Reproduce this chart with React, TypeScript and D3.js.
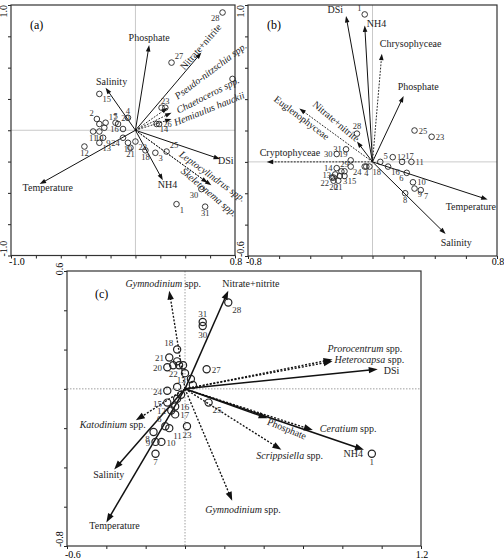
import React, { useEffect, useRef } from 'react';
import * as d3 from 'd3';

type Site = [number, number, number];
type Vec = { name: string; x: number; y: number };
type Lab = [number, number, string, number];

// ---- panel (a): diatoms ----
const sitesA: Site[] = [
  [1, 0.33, -0.59], [2, -0.31, 0.09], [3, 0.16, -0.18], [4, -0.06, 0.1], [5, -0.16, 0.06],
  [6, -0.29, 0.05], [7, 0.21, 0.18], [8, -0.25, 0.02], [9, -0.26, -0.06], [10, -0.29, -0.01],
  [11, -0.34, -0.01], [12, -0.41, -0.13], [13, -0.29, -0.1], [14, 0.17, 0.05], [15, -0.29, 0.29],
  [16, -0.1, 0.01], [17, -0.24, 0.06], [18, 0.08, -0.16], [19, -0.06, -0.1], [20, -0.14, 0.05],
  [21, -0.04, -0.14], [22, 0.0, -0.09], [23, 0.24, 0.18], [24, -0.1, -0.06], [25, 0.25, -0.17],
  [26, 0.19, 0.05], [27, 0.29, 0.54], [28, 0.7, 0.94], [29, 0.78, 0.41], [30, 0.53, -0.47],
  [31, 0.56, -0.61],
];
const envA: Vec[] = [
  { name: 'Phosphate', x: 0.11, y: 0.68 },
  { name: 'Nitrate+nitrite', x: 0.53, y: 0.62 },
  { name: 'Salinity', x: -0.24, y: 0.34 },
  { name: 'Temperature', x: -0.77, y: -0.43 },
  { name: 'DSi', x: 0.68, y: -0.23 },
  { name: 'NH4', x: 0.22, y: -0.4 },
];
const taxaA: Vec[] = [
  { name: 'Pseudo-nitzschia spp.', x: 0.26, y: 0.18 },
  { name: 'Chaetoceros spp.', x: 0.29, y: 0.14 },
  { name: 'Hemiaulus hauckii', x: 0.29, y: 0.09 },
  { name: 'Leptocylindrus spp.', x: 0.58, y: -0.42 },
  { name: 'Skeletonema spp.', x: 0.61, y: -0.44 },
];
const xTicksA = ['-1.0', '0.8'];
const yTicksA = ['1.0', '-1.0'];

// ---- panel (b): classes ----
const sitesB: Site[] = [
  [1, -0.05, 0.94], [2, -0.25, -0.1], [3, -0.21, -0.09], [4, -0.04, -0.03], [5, 0.05, 0.0],
  [6, 0.22, -0.07], [7, 0.31, -0.18], [8, 0.21, -0.2], [9, 0.27, -0.17], [10, 0.26, -0.13],
  [11, 0.25, 0.0], [12, 0.13, 0.03], [13, -0.24, -0.08], [14, -0.23, -0.04], [15, -0.18, -0.09],
  [16, 0.1, -0.03], [17, 0.19, 0.0], [18, -0.02, -0.03], [19, -0.14, 0.01], [20, -0.25, -0.12],
  [21, -0.22, -0.12], [22, -0.26, -0.1], [23, 0.38, 0.16], [24, -0.05, -0.03], [25, 0.27, 0.2],
  [26, -0.14, -0.03], [27, -0.2, -0.06], [28, -0.1, 0.18], [29, -0.18, -0.06], [30, -0.23, 0.05],
  [31, -0.17, 0.08],
];
const envB: Vec[] = [
  { name: 'DSi', x: -0.17, y: 0.93 },
  { name: 'NH4', x: -0.05, y: 0.87 },
  { name: 'Phosphate', x: 0.2, y: 0.42 },
  { name: 'Nitrate+nitrite', x: -0.1, y: 0.13 },
  { name: 'Temperature', x: 0.74, y: -0.24 },
  { name: 'Salinity', x: 0.47, y: -0.46 },
];
const taxaB: Vec[] = [
  { name: 'Chrysophyceae', x: 0.06, y: 0.69 },
  { name: 'Euglenophyceae', x: -0.47, y: 0.34 },
  { name: 'Cryptophyceae', x: -0.68, y: 0.0 },
];
const xTicksB = ['-0.8', '0.8'];
const yTicksB = ['1.0', '-0.6'];

// ---- panel (c): dinoflagellates ----
const sitesC: Site[] = [
  [1, 0.95, -0.33], [2, -0.02, -0.03], [3, -0.04, -0.05], [4, -0.01, 0.12], [5, 0.04, 0.02],
  [6, -0.1, -0.19], [7, -0.15, -0.33], [8, -0.16, -0.22], [9, -0.15, -0.27], [10, -0.12, -0.27],
  [11, -0.08, -0.2], [12, -0.07, -0.11], [13, 0.03, 0.05], [14, -0.03, 0.12], [15, -0.09, -0.07],
  [16, -0.05, -0.09], [17, -0.05, -0.13], [18, -0.04, 0.2], [19, -0.04, 0.14], [20, -0.09, 0.11],
  [21, -0.08, 0.16], [22, -0.06, 0.12], [23, 0.01, -0.19], [24, -0.09, -0.01], [25, 0.12, -0.07],
  [26, 0.0, 0.08], [27, 0.11, 0.1], [28, 0.22, 0.44], [29, -0.04, 0.01], [30, 0.09, 0.32],
  [31, 0.09, 0.34],
];
const envC: Vec[] = [
  { name: 'Nitrate+nitrite', x: 0.22, y: 0.5 },
  { name: 'DSi', x: 0.98, y: 0.1 },
  { name: 'NH4', x: 0.91, y: -0.31 },
  { name: 'Phosphate', x: 0.42, y: -0.15 },
  { name: 'Salinity', x: -0.36, y: -0.41 },
  { name: 'Temperature', x: -0.4, y: -0.68 },
];
const taxaC: Vec[] = [
  { name: 'Gymnodinium spp.', x: -0.08, y: 0.5 },
  { name: 'Prorocentrum spp.', x: 0.75, y: 0.15 },
  { name: 'Heterocapsa spp.', x: 0.75, y: 0.14 },
  { name: 'Katodinium spp.', x: -0.25, y: -0.16 },
  { name: 'Ceratium spp.', x: 0.65, y: -0.21 },
  { name: 'Scrippsiella spp.', x: 0.49, y: -0.31 },
  { name: 'Gymnodinium spp.', x: 0.24, y: -0.57 },
];
const xTicksC = ['-0.6', '1.2'];
const yTicksC = ['0.6', '-0.8'];

// label placement (layout only)
const place: Record<string, [number, number, string]> = {
  r: [4, 3, 'start'], l: [-4, 3, 'end'], a: [0, -4, 'middle'], b: [0, 9, 'middle'],
  ar: [3, -3, 'start'], al: [-3, -3, 'end'], br: [3, 8, 'start'], bl: [-3, 8, 'end'],
};
const siteTagA: Record<number, string> = {
  1: 'br', 2: 'al', 3: 'br', 4: 'a', 5: 'a', 9: 'br', 10: 'b', 11: 'b', 12: 'b', 13: 'br', 14: 'br',
  15: 'br', 16: 'l', 17: 'ar', 18: 'b', 19: 'b', 20: 'ar', 21: 'b', 22: 'br', 23: 'a', 24: 'bl',
  25: 'ar', 26: 'r', 27: 'ar', 28: 'bl', 30: 'bl', 31: 'b',
};
const siteTagB: Record<number, string> = {
  1: 'al', 3: 'br', 4: 'b', 5: 'ar', 6: 'bl', 7: 'br', 8: 'b', 9: 'br', 10: 'r', 11: 'r', 12: 'r',
  13: 'l', 14: 'l', 15: 'br', 16: 'br', 17: 'ar', 18: 'br', 19: 'al', 20: 'b', 21: 'b', 22: 'bl',
  23: 'r', 24: 'bl', 25: 'r', 28: 'a', 29: 'a', 30: 'l', 31: 'l',
};
const siteTagC: Record<number, string> = {
  1: 'b', 6: 'al', 7: 'b', 8: 'bl', 9: 'l', 10: 'r', 11: 'br', 12: 'l', 13: 'l', 15: 'l', 16: 'r',
  17: 'r', 18: 'al', 20: 'l', 21: 'l', 22: 'b', 23: 'b', 24: 'l', 25: 'br', 27: 'r', 28: 'br',
  30: 'b', 31: 'a',
};
const envLabA: Lab[] = [[0, -4, 'middle', 0], [-17, 18, 'start', -49], [6, -3, 'middle', 0], [-17, 7, 'start', 0], [-2, 5, 'start', 0], [-5, 8, 'start', 0]];
const taxaLabA: Lab[] = [[10, -8, 'start', -37], [7, 1, 'start', -27], [4, 7, 'start', -22], [-29, -27, 'start', 36], [-31, -13, 'start', 40]];
const envLabB: Lab[] = [[-3, -3, 'end', 0], [2, 2, 'start', 0], [-6, -6, 'start', 0], [-45, -36, 'start', 40], [-42, 10, 'start', 0], [-5, 12, 'start', 0]];
const taxaLabB: Lab[] = [[-2, -7, 'start', 0], [-26, -8, 'start', 37], [-7, -6, 'start', 0]];
const envLabC: Lab[] = [[-6, -4, 'start', 0], [6, 5, 'start', 0], [-1, 7, 'end', 0], [-1, 6, 'start', 22], [-21, 9, 'start', 0], [-17, 7, 'start', 0]];
const taxaLabC: Lab[] = [[-6, -4, 'middle', 0], [-5, -7, 'start', 0], [2, 2, 'start', 0], [10, 8, 'end', 0], [7, 2, 'start', 0], [-25, 9, 'start', 0], [-27, 12, 'start', 0]];

const FONT = '"Liberation Serif", "Times New Roman", serif';

const panels = [
  {
    tag: '(a)', sites: sitesA, env: envA, taxa: taxaA, siteTag: siteTagA, envLab: envLabA, taxaLab: taxaLabA,
    xd: [-1.0, 0.8], yd: [-1.0, 1.0], xStep: 0.2, yStep: 0.25, xLabels: xTicksA, yLabels: yTicksA,
    box: { l: 11, t: 5, r: 235, b: 255.5 }, italic: 'all', big: false, yTopAnchor: 'end',
  },
  {
    tag: '(b)', sites: sitesB, env: envB, taxa: taxaB, siteTag: siteTagB, envLab: envLabB, taxaLab: taxaLabB,
    xd: [-0.8, 0.8], yd: [-0.6, 1.0], xStep: 0.2, yStep: 0.2, xLabels: xTicksB, yLabels: yTicksB,
    box: { l: 248, t: 5, r: 497, b: 256 }, italic: 'none', big: false, yTopAnchor: 'end',
  },
  {
    tag: '(c)', sites: sitesC, env: envC, taxa: taxaC, siteTag: siteTagC, envLab: envLabC, taxaLab: taxaLabC,
    xd: [-0.6, 1.2], yd: [-0.8, 0.6], xStep: 0.2, yStep: 0.2, xLabels: xTicksC, yLabels: yTicksC,
    box: { l: 67, t: 271, r: 421, b: 546 }, italic: 'genus', big: true, yTopAnchor: 'middle',
  },
];

const headPath = (tx: number, ty: number, ang: number, len: number, hw: number) => {
  const bx = tx - len * Math.cos(ang);
  const by = ty - len * Math.sin(ang);
  const px = -Math.sin(ang) * hw;
  const py = Math.cos(ang) * hw;
  return `M${tx},${ty}L${bx + px},${by + py}L${bx - px},${by - py}Z`;
};

const App = () => {
  const ref = useRef<SVGSVGElement>(null);

  useEffect(() => {
    const svg = d3.select(ref.current);
    svg.selectAll('*').remove();

    panels.forEach((p) => {
      const { l, t, r, b } = p.box;
      const x = d3.scaleLinear().domain(p.xd).range([l, r]);
      const y = d3.scaleLinear().domain(p.yd).range([b, t]);
      const g = svg.append('g').attr('font-family', FONT);
      const lw = p.big ? 1.5 : 1;

      // zero lines
      g.append('line').attr('x1', x(0)).attr('x2', x(0)).attr('y1', t).attr('y2', b)
        .attr('stroke', p.big ? '#888' : '#bbb').attr('stroke-width', 0.8)
        .attr('stroke-dasharray', p.big ? '1.5,1.5' : null);
      g.append('line').attr('x1', l).attr('x2', r).attr('y1', y(0)).attr('y2', y(0))
        .attr('stroke', p.big ? '#888' : '#bbb').attr('stroke-width', 0.8)
        .attr('stroke-dasharray', p.big ? '1.5,1.5' : null);

      // axes (ticks only), frame
      const xt = d3.range(p.xd[0], p.xd[1] + 1e-6, p.xStep);
      const yt = d3.range(p.yd[0], p.yd[1] + 1e-6, p.yStep);
      const ax = g.append('g').attr('transform', `translate(0,${b})`)
        .call(d3.axisBottom(x).tickValues(xt).tickSize(3).tickSizeOuter(0).tickFormat(() => ''));
      const ay = g.append('g').attr('transform', `translate(${l},0)`)
        .call(d3.axisLeft(y).tickValues(yt).tickSize(3).tickSizeOuter(0).tickFormat(() => ''));
      [ax, ay].forEach((a) => {
        a.select('.domain').remove();
        a.selectAll('line').attr('stroke', '#222');
      });
      g.append('rect').attr('x', l).attr('y', t).attr('width', r - l).attr('height', b - t)
        .attr('fill', 'none').attr('stroke', '#333').attr('stroke-width', 1.2);

      // end tick labels
      g.append('text').attr('x', l - 2).attr('y', b + (p.big ? 12 : 9)).attr('font-size', 10).text(p.xLabels[0]);
      g.append('text').attr('x', r + 1).attr('y', b + (p.big ? 12 : 9)).attr('font-size', 10)
        .attr('text-anchor', 'middle').text(p.xLabels[1]);
      g.append('text').attr('transform', `translate(${l - 4},${p.yTopAnchor === 'middle' ? t - 2 : t}) rotate(-90)`)
        .attr('font-size', 10).attr('text-anchor', p.yTopAnchor).text(p.yLabels[0]);
      g.append('text').attr('transform', `translate(${l - 4},${b + 1}) rotate(-90)`)
        .attr('font-size', 10).attr('text-anchor', 'start').text(p.yLabels[1]);

      // panel tag
      g.append('text').attr('x', l + (p.big ? 28 : 19)).attr('y', t + (p.big ? 27 : 24))
        .attr('font-size', 12).text(p.tag);

      const ox = x(0);
      const oy = y(0);
      const hl = p.big ? 9 : 6.5;
      const hw = p.big ? 3.2 : 2.3;

      const arrow = (v: Vec, dashed: boolean) => {
        const tx = x(v.x);
        const ty = y(v.y);
        const ang = Math.atan2(ty - oy, tx - ox);
        g.append('line').attr('x1', ox).attr('y1', oy)
          .attr('x2', tx - (hl - 1) * Math.cos(ang)).attr('y2', ty - (hl - 1) * Math.sin(ang))
          .attr('stroke', '#111').attr('stroke-width', dashed ? lw * 0.9 : lw)
          .attr('stroke-dasharray', dashed ? (p.big ? '2,1.6' : '1.8,1.4') : null);
        g.append('path').attr('d', headPath(tx, ty, ang, hl, hw)).attr('fill', '#111');
      };

      const label = (v: Vec, lab: Lab, mode: string) => {
        const [dx, dy, anchor, rot] = lab;
        const txt = g.append('text')
          .attr('transform', `translate(${x(v.x) + dx},${y(v.y) + dy}) rotate(${rot})`)
          .attr('font-size', 10).attr('text-anchor', anchor).attr('fill', '#222');
        if (mode === 'all') {
          txt.attr('font-style', 'italic').text(v.name);
        } else if (mode === 'genus' && v.name.endsWith(' spp.')) {
          txt.append('tspan').attr('font-style', 'italic').text(v.name.slice(0, -5));
          txt.append('tspan').text(' spp.');
        } else {
          txt.text(v.name);
        }
      };

      p.taxa.forEach((v, i) => { arrow(v, true); label(v, p.taxaLab[i], p.italic); });
      p.env.forEach((v, i) => { arrow(v, false); label(v, p.envLab[i], 'none'); });

      // sites
      const rad = p.big ? 3.6 : 2.8;
      const k = p.big ? 1.3 : 1.05;
      p.sites.forEach(([id, sx, sy]) => {
        g.append('circle').attr('cx', x(sx)).attr('cy', y(sy)).attr('r', rad)
          .attr('fill', 'none').attr('stroke', '#222').attr('stroke-width', p.big ? 1.2 : 0.9);
        const tag = p.siteTag[id];
        if (tag) {
          const [dx, dy, anchor] = place[tag];
          g.append('text').attr('x', x(sx) + dx * k).attr('y', y(sy) + dy * k)
            .attr('font-size', p.big ? 9 : 8.5).attr('text-anchor', anchor).attr('fill', '#333')
            .text(id);
        }
      });
    });
  }, []);

  return (
    <svg ref={ref} width={504} height={559}
      style={{ position: 'absolute', left: 0, top: 0, background: '#fff' }} />
  );
};

export default App;
